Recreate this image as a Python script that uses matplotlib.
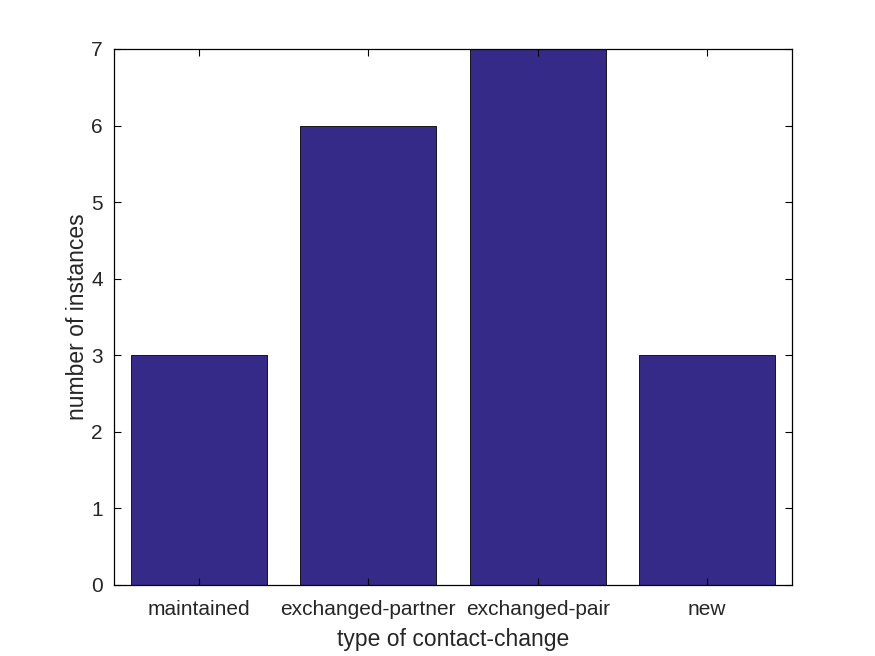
import numpy as np
import matplotlib
matplotlib.use('Agg')
import matplotlib.pyplot as plt

categories = ['maintained', 'exchanged-partner', 'exchanged-pair', 'new']
counts     = [3, 6, 7, 3]

plt.rcParams['font.family'] = ['Liberation Sans', 'DejaVu Sans']

fig = plt.figure(figsize=(8.75, 6.56), dpi=100)
ax = fig.add_axes([114 / 875, 1 - 585 / 656, 678 / 875, 536 / 656])

x = np.arange(1, len(categories) + 1)
ax.bar(x, counts, width=0.8, color='#352a87', edgecolor='black', linewidth=0.6)

ax.set_xlim(0.5, 4.5)
ax.set_ylim(0, 7)
ax.set_xticks(x)
ax.set_xticklabels(categories)
ax.set_yticks(range(0, 8))

txt = '#262626'
ax.tick_params(direction='in', top=True, right=True, length=5, width=0.8,
               labelsize=15, colors='black', labelcolor=txt)
ax.tick_params(axis='x', pad=11)
ax.tick_params(axis='y', pad=8)
for s in ax.spines.values():
    s.set_linewidth(0.9)
    s.set_color('black')

ax.set_xlabel('type of contact-change', fontsize=16.5, color=txt, labelpad=6)
ax.set_ylabel('number of instances', fontsize=16.5, color=txt, labelpad=1.5)

fig.savefig('out.png', dpi=100)
